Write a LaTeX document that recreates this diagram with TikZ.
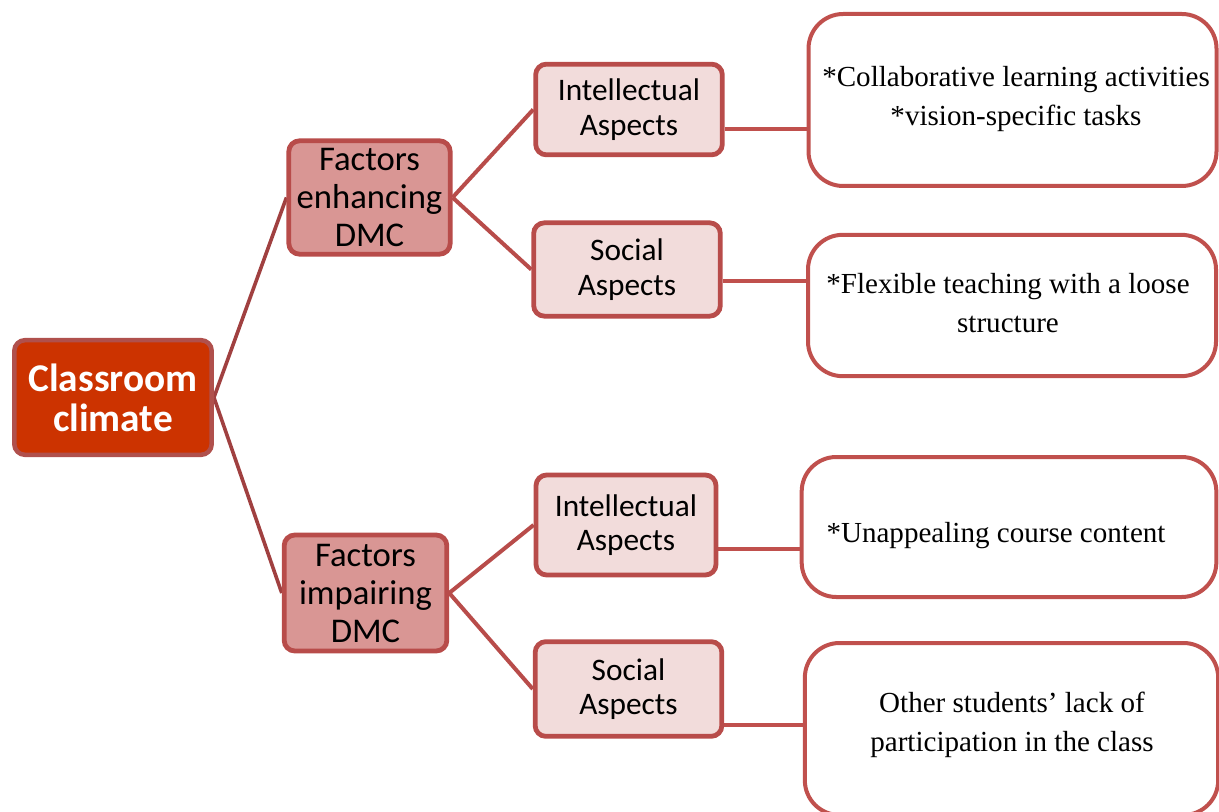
\documentclass[tikz,border=0pt]{standalone}
\usepackage{fontspec}
\setmainfont{Liberation Serif}
\setsansfont{Carlito}
\usetikzlibrary{backgrounds}
\definecolor{rootfill}{HTML}{CC3300}
\definecolor{rootdraw}{HTML}{B0504C}
\definecolor{facfill}{HTML}{D99694}
\definecolor{boxdraw}{HTML}{B84C4A}
\definecolor{aspfill}{HTML}{F2DCDB}
\definecolor{rdraw}{HTML}{C0504D}
\definecolor{linkdark}{HTML}{A04040}
\tikzset{
  rootbox/.style={draw=rootdraw, fill=rootfill, line width=3.4pt, rounded corners=8pt,
    text=white, font=\sffamily\bfseries\fontsize{29.5}{30}\selectfont, align=center, inner sep=0pt},
  facbox/.style={draw=boxdraw, fill=facfill, line width=3.6pt, rounded corners=8pt,
    font=\sffamily\fontsize{26}{28.5}\selectfont, align=center, inner sep=0pt},
  aspbox/.style={draw=boxdraw, fill=aspfill, line width=3.6pt, rounded corners=8pt,
    font=\sffamily\fontsize{23.5}{26}\selectfont, align=center, inner sep=0pt},
  descbox/.style={draw=rdraw, fill=white, line width=3pt, rounded corners=26pt, inner sep=0pt},
  desctext/.style={font=\fontsize{21.8}{29}\selectfont, align=center, inner sep=0pt},
  rootlink/.style={draw=linkdark, line width=2.7pt},
  link/.style={draw=boxdraw, line width=3pt},
  desclink/.style={draw=rdraw, line width=3pt},
}
\begin{document}
\begin{tikzpicture}[x=0.75pt,y=-0.75pt]
\useasboundingbox (0,0) rectangle (1219,812);
\clip (0,0) rectangle (1219,812);
% root
\node[rootbox, minimum width=148pt, minimum height=86pt] (root) at (113,397.5) {Classroom\\climate};
% factors
\node[facbox, minimum width=121pt, minimum height=85pt] (enh) at (369.5,197.5) {Factors\\enhancing\\DMC};
\node[facbox, minimum width=122pt, minimum height=87pt] (imp) at (365.5,593) {Factors\\impairing\\DMC};
% aspects
\node[aspbox, minimum width=140pt, minimum height=68pt] (int1) at (629,109.5) {Intellectual\\Aspects};
\node[aspbox, minimum width=140pt, minimum height=70pt] (soc1) at (627,269.5) {Social\\Aspects};
\node[aspbox, minimum width=135pt, minimum height=75pt] (int2) at (626,525) {Intellectual\\Aspects};
\node[aspbox, minimum width=140pt, minimum height=71pt] (soc2) at (628.5,689) {Social\\Aspects};
% description boxes
\node[descbox, minimum width=306pt, minimum height=129pt] (r1) at (1012.5,100) {};
\node[descbox, minimum width=306pt, minimum height=106pt] (r2) at (1012,305.5) {};
\node[descbox, minimum width=311pt, minimum height=105pt] (r3) at (1009,527) {};
\node[descbox, minimum width=310pt, minimum height=129pt] (r4) at (1011.5,729) {};
\node[desctext] (t1) at (1016,99) {*Collaborative learning activities\\*vision-specific tasks};
\node[desctext] (t2) at (1008,303) {*Flexible teaching with a loose\\structure};
\node[desctext] (t3) at (996,536) {*Unappealing course content};
\node[desctext] (t4) at (1012,725) {Other students’ lack of\\participation in the class};
% connectors
\begin{scope}[on background layer]
\draw[rootlink] (root.east) -- (enh.west);
\draw[rootlink] (root.east) -- (imp.west);
\draw[link] (enh.east) -- (int1.west);
\draw[link] (enh.east) -- (soc1.west);
\draw[link] (imp.east) -- (int2.west);
\draw[link] (imp.east) -- (soc2.west);
\draw[desclink] ([yshift=-14.6pt]int1.east) -- ([yshift=-14.6pt]int1.east -| r1.west);
\draw[desclink] ([yshift=-8.6pt]soc1.east) -- ([yshift=-8.6pt]soc1.east -| r2.west);
\draw[desclink] ([yshift=-18pt]int2.east) -- ([yshift=-18pt]int2.east -| r3.west);
\draw[desclink] ([yshift=-27pt]soc2.east) -- ([yshift=-27pt]soc2.east -| r4.west);
\end{scope}
\end{tikzpicture}
\end{document}
